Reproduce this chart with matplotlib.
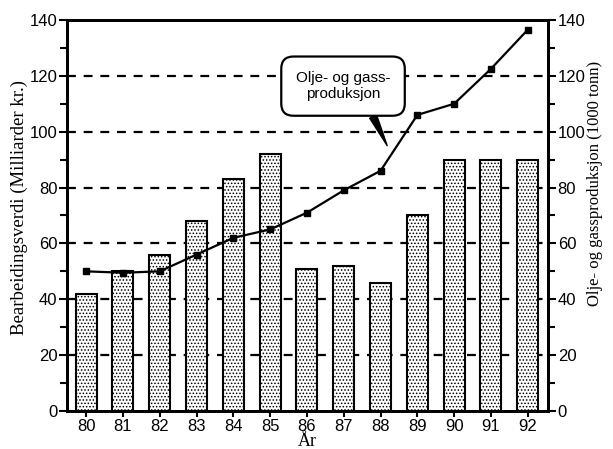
import matplotlib
matplotlib.use('Agg')
import matplotlib.pyplot as plt
from matplotlib.ticker import MultipleLocator

# data
years = [80, 81, 82, 83, 84, 85, 86, 87, 88, 89, 90, 91, 92]
bearbeiding = [42, 50, 56, 68, 83, 92, 51, 52, 46, 70, 90, 90, 90]
olje_gass = [50, 49.5, 50, 56, 62, 65, 71, 79, 86, 106, 110, 122.5, 136.5]
yticks = [0, 20, 40, 60, 80, 100, 120, 140]

SANS = ['Liberation Sans', 'DejaVu Sans']
SERIF = ['Liberation Serif', 'DejaVu Serif']
plt.rcParams['font.family'] = SANS
plt.rcParams['hatch.color'] = '#666666'
plt.rcParams['hatch.linewidth'] = 0.7

fig = plt.figure(figsize=(6.13, 4.49), dpi=100)
ax = fig.add_axes([0.1093, 0.0846, 0.7847, 0.871])
ax2 = ax.twinx()

# ── bars ──
ax.bar(years, bearbeiding, width=0.57, facecolor='white', edgecolor='black',
       linewidth=1.5, hatch='.....', zorder=2)

ax.set_xlim(79.48, 92.55)
ax.set_ylim(0, 140)
ax.set_xticks(years)
ax.set_yticks(yticks)
ax.yaxis.set_minor_locator(MultipleLocator(10))
ax.set_axisbelow(True)
for v in yticks[1:-1]:
    ax.axhline(v, color='black', lw=1.6, ls=(0, (4, 3.5)), zorder=1)

# ── line ──
ax2.plot(years, olje_gass, color='black', lw=1.6, marker='s', ms=5, zorder=4)
ax2.set_ylim(0, 140)
ax2.set_yticks(yticks)
ax2.yaxis.set_minor_locator(MultipleLocator(10))

for a in (ax, ax2):
    for s in a.spines.values():
        s.set_linewidth(2)
    a.tick_params(which='major', direction='out', length=6, width=1.5, labelsize=12, pad=1)
    a.tick_params(which='minor', direction='out', length=5, width=1.5)
ax.tick_params(axis='x', length=4, pad=2)

ax.set_ylabel('Bearbeidingsverdi (Milliarder kr.)', family=SERIF, fontsize=13.5)
ax.yaxis.set_label_coords(-0.099, 0.52)
ax2.set_ylabel('Olje- og gassproduksjon (1000 tonn)', family=SERIF, fontsize=12)
ax2.yaxis.set_label_coords(1.098, 0.582)
for lab in (ax.yaxis.label, ax2.yaxis.label):
    lab.set_ha('center')
    lab.set_va('center')
ax.set_xlabel('År', family=SERIF, fontsize=13, labelpad=-1)

# ── callout ──
ax2.annotate('Olje- og gass-\nproduksjon', xy=(88.18, 95), xytext=(86.98, 116.3),
             ha='center', va='center', fontsize=11, zorder=5,
             bbox=dict(boxstyle='round,pad=0.95,rounding_size=0.8', fc='white', ec='black', lw=1.6),
             arrowprops=dict(arrowstyle='wedge,tail_width=0.5', fc='black', ec='black',
                             shrinkA=0, shrinkB=0, relpos=(0.74, 0)))

fig.savefig('out.png', dpi=100)
